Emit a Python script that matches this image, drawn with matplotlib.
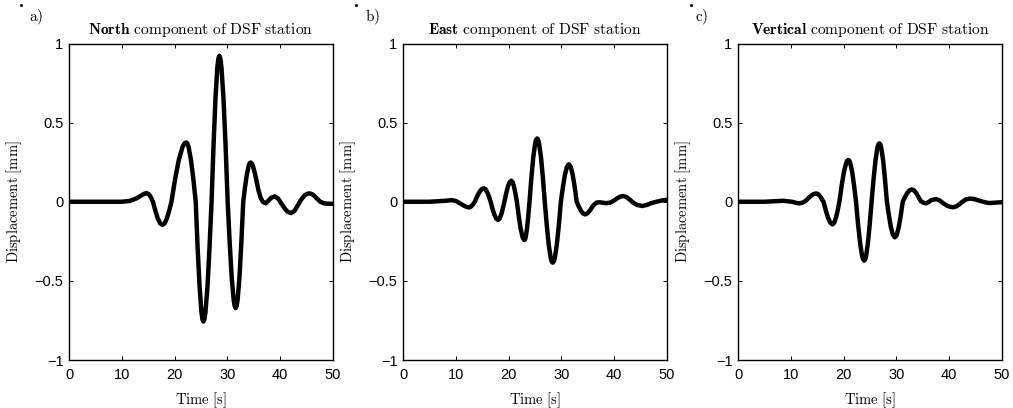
import matplotlib
matplotlib.use("Agg")
import matplotlib.pyplot as plt
from matplotlib.lines import Line2D

plt.rcParams['mathtext.fontset'] = 'cm'
plt.rcParams['font.family'] = ['Liberation Sans', 'DejaVu Sans']

# ---------------- data ----------------
t_north = [0, 5, 10, 11.5, 12.7, 13.7, 14.2, 14.7, 15.2, 15.55, 15.9,
           16.35, 16.8, 17.25, 17.7, 18.13, 18.55, 18.98, 19.4,
           20.1, 20.8, 21.5, 21.85, 22.2, 22.43, 22.65, 23.1, 23.55, 24.0,
           24.36, 24.73, 25.09, 25.27, 25.45, 25.64, 25.84, 26.23, 26.61, 27.0,
           27.37, 27.74, 28.1, 28.29, 28.47, 28.67, 28.87, 29.26, 29.66, 30.05,
           30.43, 30.81, 31.19, 31.38, 31.57, 31.75, 31.93, 32.29, 32.64, 33.0,
           33.35, 33.7, 34.05, 34.22, 34.4, 34.6, 34.85, 35.2, 35.5, 35.9, 36.3, 36.7,
           37.25, 37.7, 38.3, 39.0, 39.6, 40.2, 40.8, 41.4, 42.05, 42.7, 43.3, 43.9,
           44.6, 45.1, 45.6, 46.2, 46.9, 47.6, 48.3, 49.2, 50]
d_north = [0, 0, 0.0, 0.005, 0.02, 0.04, 0.05, 0.055, 0.045, 0.025, 0.0,
           -0.056, -0.104, -0.136, -0.147, -0.136, -0.104, -0.056, 0.0,
           0.144, 0.265, 0.346, 0.368, 0.375, 0.368, 0.346, 0.265, 0.144, 0.0,
           -0.29, -0.535, -0.70, -0.743, -0.757, -0.743, -0.70, -0.535, -0.29, 0.0,
           0.353, 0.652, 0.852, 0.904, 0.922, 0.904, 0.852, 0.652, 0.353, 0.0,
           -0.257, -0.475, -0.621, -0.659, -0.672, -0.659, -0.621, -0.475, -0.257, 0.0,
           0.095, 0.175, 0.229, 0.243, 0.248, 0.243, 0.225, 0.18, 0.135, 0.07, 0.025, 0.0,
           -0.01, 0.005, 0.025, 0.034, 0.02, -0.01, -0.04, -0.063, -0.072, -0.058, -0.025, 0.01,
           0.04, 0.05, 0.053, 0.045, 0.022, 0.0, -0.01, -0.013, -0.013]

t_east = [0, 5, 8.0, 9.2, 10.0, 10.8, 11.6, 12.1, 12.5, 12.9, 13.3, 13.6,
          14.03, 14.45, 14.88, 15.3, 15.63, 15.95, 16.28, 16.6,
          16.95, 17.3, 17.65, 18.0, 18.3, 18.6, 18.9, 19.2,
          19.53, 19.85, 20.18, 20.5, 20.77, 21.04, 21.3, 21.57,
          21.93, 22.29, 22.64, 22.82, 23.0, 23.12, 23.24, 23.48, 23.72, 23.96,
          24.32, 24.68, 25.04, 25.22, 25.4, 25.58, 25.76, 26.13, 26.49, 26.85,
          27.23, 27.6, 27.98, 28.17, 28.36, 28.55, 28.75, 29.13, 29.52, 29.9,
          30.28, 30.65, 31.03, 31.4, 31.78, 32.15, 32.53, 32.9,
          33.3, 33.7, 34.1, 34.5, 35.0, 35.5, 36.0, 36.6, 37.2, 37.8, 38.5, 39.3,
          39.9, 40.5, 41.1, 41.7, 42.3, 42.9, 43.5, 44.3, 45.3, 46.2, 47.1, 48.0,
          49.0, 50]
d_east = [0, 0.0, 0.006, 0.01, 0.005, -0.01, -0.026, -0.033, -0.036, -0.03, -0.015, 0.0,
          0.033, 0.06, 0.079, 0.085, 0.079, 0.06, 0.033, 0.0,
          -0.044, -0.081, -0.106, -0.115, -0.106, -0.081, -0.044, 0.0,
          0.051, 0.094, 0.123, 0.133, 0.123, 0.094, 0.051, 0.0,
          -0.093, -0.171, -0.224, -0.237, -0.242, -0.237, -0.224, -0.171, -0.093, 0.0,
          0.153, 0.283, 0.37, 0.392, 0.40, 0.392, 0.37, 0.283, 0.153, 0.0,
          -0.147, -0.272, -0.356, -0.378, -0.385, -0.378, -0.356, -0.272, -0.147, 0.0,
          0.091, 0.168, 0.219, 0.237, 0.219, 0.168, 0.091, 0.0,
          -0.031, -0.057, -0.074, -0.08, -0.072, -0.05, -0.025, -0.006, -0.003, -0.006,
          -0.009, -0.005,
          0.006, 0.02, 0.032, 0.036, 0.03, 0.015, -0.003, -0.02, -0.027, -0.02, -0.008, 0.0,
          0.008, 0.012]

t_vert = [0, 5, 8.6, 10.2, 11.0, 11.6, 12.2, 12.8, 13.3, 13.8, 14.3, 14.8, 15.2, 15.6,
          15.9, 16.2,
          16.63, 17.05, 17.48, 17.9, 18.23, 18.55, 18.88, 19.2,
          19.63, 20.05, 20.48, 20.69, 20.9, 21.08, 21.26, 21.63, 21.99, 22.35,
          22.74, 23.13, 23.51, 23.71, 23.9, 24.08, 24.25, 24.6, 24.95, 25.3,
          25.67, 26.04, 26.4, 26.59, 26.77, 26.95, 27.13, 27.49, 27.84, 28.2,
          28.58, 28.95, 29.33, 29.7, 30.08, 30.45, 30.83, 31.2,
          31.63, 32.05, 32.48, 32.9, 33.33, 33.75, 34.18, 34.6, 35.1, 35.6, 36.1, 36.6,
          37.5, 38.1, 38.8, 39.6, 40.2, 40.7, 41.3, 41.9, 42.5, 43.2, 43.9, 44.6, 45.4,
          46.4, 47.1, 47.7, 49.0, 50]
d_vert = [0, 0.0, 0.006, 0.0, -0.007, -0.01, -0.006, 0.005, 0.022, 0.037, 0.048, 0.053,
          0.048, 0.032, 0.015, 0.0,
          -0.055, -0.101, -0.132, -0.143, -0.132, -0.101, -0.055, 0.0,
          0.101, 0.187, 0.244, 0.259, 0.264, 0.259, 0.244, 0.187, 0.101, 0.0,
          -0.142, -0.263, -0.344, -0.365, -0.372, -0.365, -0.344, -0.263, -0.142, 0.0,
          0.141, 0.261, 0.341, 0.362, 0.369, 0.362, 0.341, 0.261, 0.141, 0.0,
          -0.086, -0.159, -0.208, -0.225, -0.208, -0.159, -0.086, 0.0,
          0.03, 0.055, 0.072, 0.078, 0.072, 0.055, 0.03, 0.005, -0.006, -0.01, -0.002, 0.01,
          0.017, 0.01, -0.008, -0.025, -0.032, -0.035, -0.03, -0.017, 0.0, 0.015, 0.02,
          0.018, 0.01, 0.0, -0.006, -0.008, -0.005, -0.003]

components = ["North", "East", "Vertical"]
panel_letters = ["a)", "b)", "c)"]
xticks = [0, 10, 20, 30, 40, 50]
yticks = [-1, -0.5, 0, 0.5, 1]
ytick_labels = ["\u22121", "\u22120.5", "0", "0.5", "1"]
series_t = [t_north, t_east, t_vert]
series_d = [d_north, d_east, d_vert]

# ---------------- figure ----------------
W, H = 1013, 408
fig = plt.figure(figsize=(W / 100, H / 100), dpi=100)

lefts_px = [69, 403, 738]
ax_w_px = 264
top_px, bot_px = 43.5, 360
letter_x_px = [36, 372, 702]
dot_x_px = [20.7, 356, 690.7]

for i in range(3):
    ax = fig.add_axes([lefts_px[i] / W, (H - bot_px) / H, ax_w_px / W,
                       (bot_px - top_px) / H])
    ax.plot(series_t[i], series_d[i], color='black', lw=3.2,
            solid_joinstyle='round', solid_capstyle='butt')
    ax.set_xlim(0, 50)
    ax.set_ylim(-1, 1)
    ax.set_xticks(xticks)
    ax.set_xticklabels([str(v) for v in xticks])
    ax.set_yticks(yticks)
    ax.set_yticklabels(ytick_labels)
    ax.tick_params(direction='in', length=3, width=0.7, top=True, right=True,
                   labelsize=10.5, colors='black')
    ax.tick_params(axis='x', pad=5.5)
    ax.tick_params(axis='y', pad=4)
    for s in ax.spines.values():
        s.set_linewidth(1.0)
        s.set_color('black')
    ax.set_title(r'$\mathbf{' + components[i] + r'}\ \mathrm{component\ of\ DSF\ station}$',
                 fontsize=11.2, pad=7)
    ax.set_xlabel(r'$\mathrm{Time\ [s]}$', fontsize=10.5)
    ax.set_ylabel(r'$\mathrm{Displacement\ [mm]}$', fontsize=10.5)
    ax.yaxis.set_label_coords(-45 / ax_w_px, 0.5)
    ax.xaxis.set_label_coords(0.5, -0.095)
    fig.text(letter_x_px[i] / W, 1 - 17 / H, r'$\mathrm{' + panel_letters[i] + '}$',
             ha='center', va='center', fontsize=11)
    fig.add_artist(Line2D([dot_x_px[i] / W], [1 - 5 / H], marker='s', ms=1.0,
                          color='black', transform=fig.transFigure, lw=0))

fig.savefig('out.png', dpi=100)
